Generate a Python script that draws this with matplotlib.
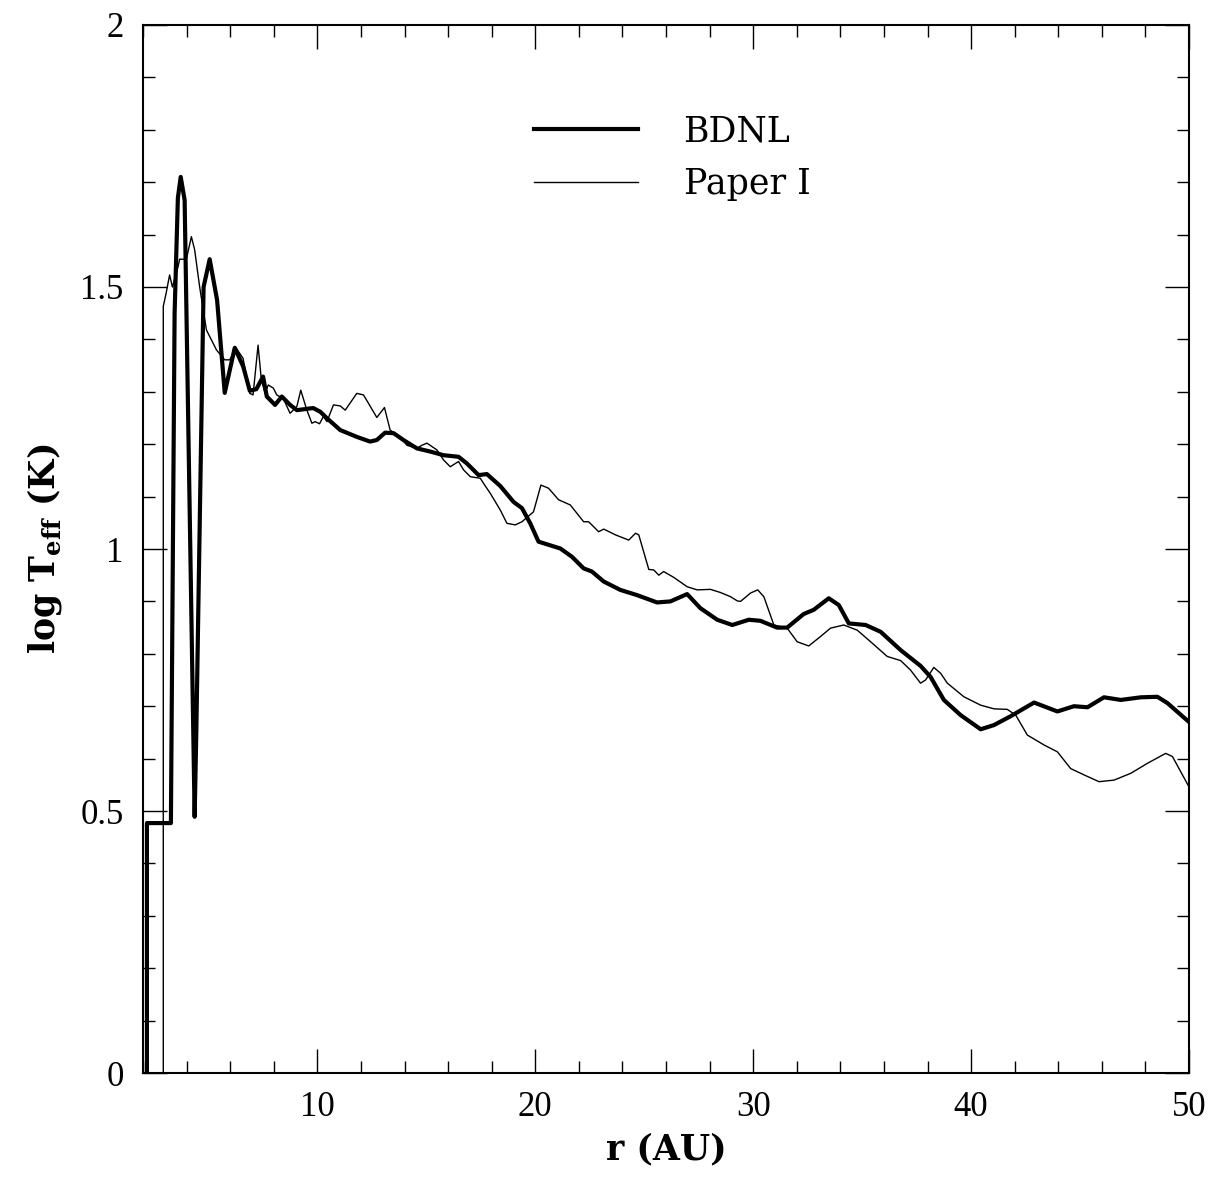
"""Effective temperature profile: BDNL vs Paper I."""

import matplotlib

matplotlib.use("Agg")
import matplotlib.pyplot as plt
from matplotlib.ticker import MultipleLocator, FuncFormatter

# BDNL (thick curve)
bdnl_r = [2.18, 2.18, 3.28, 3.45, 3.60, 3.73, 3.91, 4.37, 4.45, 4.78, 5.06,
          5.40, 5.75, 6.21, 6.60, 6.90, 7.20, 7.51, 7.68, 8.06, 8.37, 8.75,
          9.06, 9.81, 10.13, 10.43, 11.05, 11.81, 12.42, 12.73, 13.11, 13.50,
          13.95, 14.57, 15.18, 15.79, 16.48, 16.87, 17.40, 17.78, 18.40,
          19.00, 19.39, 19.77, 20.15, 21.15, 21.69, 22.22, 22.60, 23.14,
          23.90, 24.67, 25.59, 26.20, 26.97, 27.58, 28.35, 29.04, 29.80,
          30.33, 31.10, 31.56, 32.32, 32.78, 33.47, 33.93, 34.39, 35.16,
          35.85, 36.77, 37.68, 38.14, 38.75, 39.52, 40.44, 41.05, 41.82,
          42.89, 43.96, 44.72, 45.34, 46.10, 46.87, 47.79, 48.55, 49.01,
          50.08]
bdnl_t = [-0.05, 0.477, 0.477, 1.45, 1.67, 1.71, 1.666, 0.489, 0.66, 1.50,
          1.553, 1.475, 1.298, 1.384, 1.348, 1.302, 1.305, 1.329, 1.291,
          1.275, 1.291, 1.275, 1.265, 1.269, 1.262, 1.250, 1.227, 1.214,
          1.205, 1.208, 1.222, 1.221, 1.208, 1.192, 1.186, 1.179, 1.176,
          1.163, 1.141, 1.143, 1.120, 1.090, 1.078, 1.049, 1.014, 1.001,
          0.985, 0.963, 0.957, 0.938, 0.922, 0.912, 0.898, 0.900, 0.914,
          0.887, 0.865, 0.855, 0.865, 0.863, 0.850, 0.850, 0.876, 0.884,
          0.906, 0.893, 0.858, 0.855, 0.842, 0.807, 0.777, 0.756, 0.712,
          0.683, 0.656, 0.664, 0.681, 0.707, 0.690, 0.700, 0.698, 0.717,
          0.712, 0.717, 0.718, 0.706, 0.667]

# Paper I (thin curve)
paper_r = [2.93, 2.93, 3.07, 3.22, 3.35, 3.61, 3.68, 3.99, 4.22, 4.37, 4.60,
           4.91, 5.37, 5.75, 5.98, 6.28, 6.59, 6.90, 7.05, 7.28, 7.43, 7.60,
           7.75, 7.98, 8.14, 8.44, 8.75, 9.06, 9.24, 9.52, 9.75, 9.90, 10.10,
           10.28, 10.44, 10.74, 11.05, 11.28, 11.81, 12.12, 12.73, 13.08,
           13.34, 13.80, 14.11, 14.57, 14.80, 15.03, 15.49, 15.79, 16.10,
           16.48, 16.71, 17.02, 17.48, 17.63, 17.94, 18.40, 18.70, 19.08,
           19.39, 19.92, 20.26, 20.61, 21.07, 21.61, 22.22, 22.45, 22.91,
           23.14, 23.68, 24.29, 24.60, 24.75, 25.21, 25.44, 25.67, 25.89,
           26.35, 26.97, 27.43, 28.04, 28.50, 28.96, 29.27, 29.42, 29.88,
           30.21, 30.49, 30.95, 31.56, 32.02, 32.55, 33.09, 33.55, 34.16,
           34.78, 35.39, 36.15, 36.77, 37.22, 37.68, 37.91, 38.29, 38.60,
           38.91, 39.67, 40.44, 41.05, 41.66, 42.05, 42.58, 43.35, 43.96,
           44.57, 45.18, 45.87, 46.56, 47.33, 48.09, 48.93, 49.24, 50.08]
paper_t = [-0.05, 1.463, 1.490, 1.523, 1.500, 1.539, 1.553, 1.553, 1.596,
           1.571, 1.500, 1.418, 1.380, 1.361, 1.361, 1.383, 1.364, 1.297,
           1.294, 1.389, 1.323, 1.298, 1.313, 1.307, 1.294, 1.287, 1.259,
           1.272, 1.303, 1.265, 1.240, 1.243, 1.239, 1.253, 1.243, 1.275,
           1.273, 1.265, 1.297, 1.294, 1.251, 1.270, 1.227, 1.214, 1.198,
           1.192, 1.198, 1.202, 1.189, 1.170, 1.157, 1.167, 1.151, 1.138,
           1.135, 1.125, 1.106, 1.074, 1.049, 1.046, 1.052, 1.071, 1.122,
           1.116, 1.094, 1.084, 1.052, 1.052, 1.033, 1.038, 1.027, 1.017,
           1.030, 1.027, 0.961, 0.960, 0.950, 0.957, 0.946, 0.928, 0.922,
           0.923, 0.917, 0.909, 0.901, 0.900, 0.916, 0.922, 0.909, 0.855,
           0.849, 0.823, 0.815, 0.833, 0.849, 0.855, 0.845, 0.823, 0.795,
           0.787, 0.769, 0.744, 0.750, 0.774, 0.763, 0.744, 0.718, 0.702,
           0.695, 0.694, 0.683, 0.645, 0.626, 0.613, 0.581, 0.569, 0.556,
           0.559, 0.572, 0.591, 0.610, 0.604, 0.540]

SERIF = ["Liberation Serif", "DejaVu Serif"]
WIDE_SERIF = ["DejaVu Serif", "Liberation Serif"]

plt.rcParams["font.family"] = SERIF
plt.rcParams["mathtext.fontset"] = "custom"
plt.rcParams["mathtext.rm"] = "DejaVu Serif"
plt.rcParams["mathtext.bf"] = "DejaVu Serif:bold"

fig = plt.figure(figsize=(12.15, 11.78), dpi=100)
ax = fig.add_axes([0.1177, 0.0891, 0.8609, 0.8897])

ax.plot(bdnl_r, bdnl_t, color="black", linewidth=3.0, label="BDNL",
        solid_joinstyle="round", zorder=3)
ax.plot(paper_r, paper_t, color="black", linewidth=1.0, label="Paper I",
        zorder=2)

ax.set_xlim(2, 50)
ax.set_ylim(0, 2)

ax.xaxis.set_major_locator(MultipleLocator(10))
ax.xaxis.set_minor_locator(MultipleLocator(2))
ax.yaxis.set_major_locator(MultipleLocator(0.5))
ax.yaxis.set_minor_locator(MultipleLocator(0.1))
ax.yaxis.set_major_formatter(FuncFormatter(lambda v, _: f"{v:g}"))

ax.tick_params(which="both", direction="in", top=True, right=True,
               width=1.0, colors="black")
ax.tick_params(which="major", length=17, labelsize=25)
ax.tick_params(which="minor", length=8.5)
ax.tick_params(axis="x", which="major", pad=13)
ax.tick_params(axis="y", which="major", pad=14)

for spine in ax.spines.values():
    spine.set_linewidth(1.5)

ax.set_xlabel("r (AU)", fontsize=25, fontweight="bold", family=WIDE_SERIF,
              labelpad=6)
ax.set_ylabel(r"log T$_{\mathbf{eff}}$ (K)", fontsize=25, fontweight="bold",
              family=WIDE_SERIF, labelpad=12)

ax.legend(loc="upper left", bbox_to_anchor=(0.374, 0.915), frameon=False,
          prop={"family": WIDE_SERIF, "size": 25}, handlelength=3.0,
          handletextpad=1.3, labelspacing=0.55, borderaxespad=0, borderpad=0)

fig.savefig("out.png", dpi=100)
